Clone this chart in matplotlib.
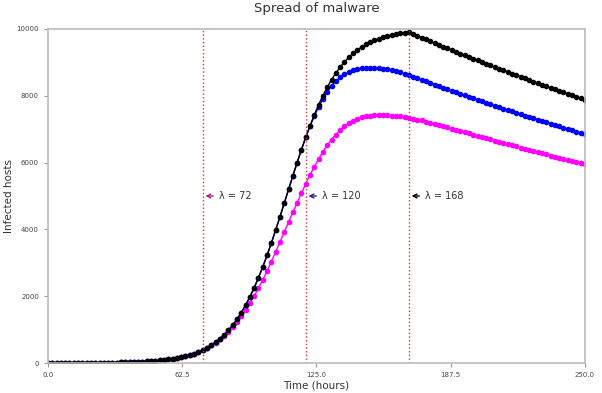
import numpy as np
import matplotlib
matplotlib.use('Agg')
import matplotlib.pyplot as plt

# time grid, one sample every 2 hours
hours = np.arange(0, 251, 2)

# all three runs are the same until the first patch (t = 0..72)
common = [1, 1, 1, 2, 2, 2, 3, 3, 4, 5, 6, 7, 8, 9, 11, 13, 15, 18, 21, 25,
          29, 35, 41, 48, 56, 66, 78, 92, 108, 127, 150, 176, 206, 242, 283,
          333, 390]

# lambda = 168 and lambda = 120 agree until t = 120 (t = 74..120)
late_mid = [457, 534, 623, 727, 845, 981, 1136, 1312, 1511, 1733, 1981, 2254,
            2554, 2878, 3226, 3593, 3979, 4378, 4785, 5195, 5602, 6001, 6388,
            6757]

# t = 122..250
black_tail = [7106, 7431, 7732, 8006, 8255, 8480, 8679, 8856, 9012, 9149,
              9268, 9372, 9462, 9539, 9606, 9664, 9713, 9756, 9792, 9823,
              9849, 9872, 9891, 9907,
              9852, 9797, 9742, 9688, 9634, 9580, 9527, 9474, 9421, 9368,
              9316, 9264, 9212, 9161, 9110, 9059, 9009, 8959, 8909, 8859,
              8810, 8761, 8712, 8663, 8615, 8567, 8519, 8472, 8425, 8378,
              8331, 8285, 8239, 8193, 8147, 8102, 8057, 8012, 7967, 7923,
              7879]

blue_tail = [7085, 7390, 7665, 7905, 8115, 8290, 8435, 8550, 8640, 8710,
             8762, 8800, 8825, 8840, 8845, 8842, 8832, 8815, 8792, 8765,
             8733, 8698, 8660, 8620,
             8572, 8524, 8476, 8429, 8382, 8335, 8288, 8242, 8196, 8150,
             8104, 8059, 8014, 7969, 7924, 7880, 7836, 7792, 7748, 7705,
             7662, 7619, 7576, 7534, 7492, 7450, 7408, 7367, 7326, 7285,
             7244, 7203, 7163, 7123, 7083, 7043, 7004, 6965, 6926, 6887,
             6848]

# lambda = 72, t = 74..250
magenta_tail = [454, 528, 611, 707, 815, 935, 1070, 1223, 1393, 1580, 1785,
                2008, 2240,
                2490, 2755, 3035, 3325, 3620, 3918, 4216, 4510, 4800, 5085,
                5365, 5627, 5875, 6107, 6321, 6515, 6688, 6840, 6971, 7082,
                7174, 7248, 7306, 7350, 7382, 7404, 7417, 7423, 7423, 7418,
                7409, 7396, 7380, 7361, 7340,
                7316, 7289, 7260, 7229, 7196, 7162, 7127, 7091, 7055, 7019,
                6983, 6947, 6911, 6875, 6839, 6803, 6767, 6731, 6695, 6660,
                6625, 6590, 6555, 6520, 6485, 6450, 6416, 6382, 6348, 6314,
                6280, 6246, 6212, 6179, 6146, 6113, 6080, 6047, 6014, 5981,
                5948]

infected_168 = common + late_mid + black_tail
infected_120 = common + late_mid + blue_tail
infected_72 = common + magenta_tail

lambdas = [72, 120, 168]
colors = ['#ff00ff', '#0000ff', '#000000']
arrow_colors = ['#aa2288', '#222288', '#000000']

fig = plt.figure(figsize=(6.02, 3.93), dpi=100)
ax = fig.add_axes([0.0797, 0.0763, 0.892, 0.85])

for ys, c in zip([infected_72, infected_120, infected_168], colors):
    ax.plot(hours, ys, '-o', color=c, lw=1, ms=3)

for lam, ac in zip(lambdas, arrow_colors):
    ax.axvline(lam, color='#dd3333', ls=':', lw=1)
    ax.annotate('λ = %d' % lam, xy=(lam, 5000), xytext=(lam + 7.5, 5000),
                va='center', ha='left', fontsize=7, color='#333333',
                arrowprops=dict(arrowstyle='->', color=ac, lw=1))

ax.set_xlim(0, 250)
ax.set_ylim(0, 10000)
ax.set_xticks([0, 62.5, 125, 187.5, 250])
ax.set_yticks([0, 2000, 4000, 6000, 8000, 10000])

for s in ax.spines.values():
    s.set_color('#bbbbbb')
    s.set_linewidth(1.2)
ax.tick_params(labelsize=5, colors='#444444', length=3, width=0.8)
ax.tick_params(color='#999999')

ax.set_xlabel('Time (hours)', fontsize=7.5, color='#333333', labelpad=2)
ax.set_ylabel('Infected hosts', fontsize=7.5, color='#333333', labelpad=2)
ax.set_title('Spread of malware', fontsize=9.5, color='#333333', pad=12)

fig.savefig('out.png', dpi=100)
